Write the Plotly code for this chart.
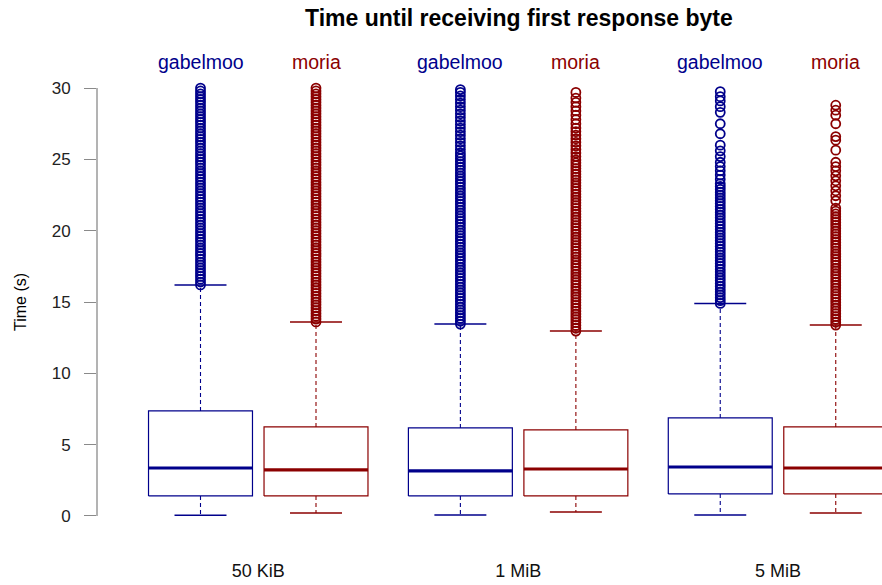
import plotly.graph_objects as go

# ---------------- data ----------------
groups = ["50 KiB", "1 MiB", "5 MiB"]
series = ["gabelmoo", "moria"]

# five-number summaries per group (lower whisker, Q1, median, Q3, upper whisker)
gab_low = [0.05, 0.07, 0.07]
gab_q1 = [1.40, 1.40, 1.54]
gab_med = [3.36, 3.15, 3.43]
gab_q3 = [7.36, 6.17, 6.87]
gab_high = [16.19, 13.45, 14.90]

mor_low = [0.20, 0.28, 0.20]
mor_q1 = [1.40, 1.40, 1.54]
mor_med = [3.22, 3.29, 3.36]
mor_q3 = [6.24, 6.03, 6.24]
mor_high = [13.60, 12.96, 13.38]

# outliers (seconds)
gab_out_50k = [16.2, 16.4, 16.6, 16.8, 17.0, 17.2, 17.4, 17.6, 17.8, 18.0, 18.2, 18.4, 18.6,
               18.8, 19.0, 19.2, 19.4, 19.6, 19.8, 20.0, 20.2, 20.4, 20.6, 20.8, 21.0, 21.2,
               21.4, 21.6, 21.8, 22.0, 22.2, 22.4, 22.6, 22.8, 23.0, 23.2, 23.4, 23.6, 23.8,
               24.0, 24.2, 24.4, 24.6, 24.8, 25.0, 25.2, 25.4, 25.6, 25.8, 26.0, 26.2, 26.4,
               26.6, 26.8, 27.0, 27.2, 27.4, 27.6, 27.8, 28.0, 28.2, 28.4, 28.6, 28.8, 29.0,
               29.2, 29.4, 29.6, 29.8, 30.0]
mor_out_50k = [13.6, 13.8, 14.0, 14.2, 14.4, 14.6, 14.8, 15.0, 15.2, 15.4, 15.6, 15.8, 16.0,
               16.2, 16.4, 16.6, 16.8, 17.0, 17.2, 17.4, 17.6, 17.8, 18.0, 18.2, 18.4, 18.6,
               18.8, 19.0, 19.2, 19.4, 19.6, 19.8, 20.0, 20.2, 20.4, 20.6, 20.8, 21.0, 21.2,
               21.4, 21.6, 21.8, 22.0, 22.2, 22.4, 22.6, 22.8, 23.0, 23.2, 23.4, 23.6, 23.8,
               24.0, 24.2, 24.4, 24.6, 24.8, 25.0, 25.2, 25.4, 25.6, 25.8, 26.0, 26.2, 26.4,
               26.6, 26.8, 27.0, 27.2, 27.4, 27.6, 27.8, 28.0, 28.2, 28.4, 28.6, 28.8, 29.0,
               29.2, 29.4, 29.6, 29.8, 30.0]
gab_out_1m = [13.45, 13.65, 13.85, 14.05, 14.25, 14.45, 14.65, 14.85, 15.05, 15.25, 15.45,
              15.65, 15.85, 16.05, 16.25, 16.45, 16.65, 16.85, 17.05, 17.25, 17.45, 17.65,
              17.85, 18.05, 18.25, 18.45, 18.65, 18.85, 19.05, 19.25, 19.45, 19.65, 19.85,
              20.05, 20.25, 20.45, 20.65, 20.85, 21.05, 21.25, 21.45, 21.65, 21.85, 22.05,
              22.25, 22.45, 22.65, 22.85, 23.05, 23.25, 23.45, 23.65, 23.85, 24.05, 24.25,
              24.45, 24.65, 24.85, 25.05, 25.25, 25.45, 25.7, 25.95, 26.2, 26.45, 26.7,
              26.95, 27.2, 27.45, 27.7, 27.95, 28.2, 28.45, 28.7, 28.95, 29.2, 29.45, 29.7,
              29.9]
mor_out_1m = [12.96, 13.16, 13.36, 13.56, 13.76, 13.96, 14.16, 14.36, 14.56, 14.76, 14.96,
              15.16, 15.36, 15.56, 15.76, 15.96, 16.16, 16.36, 16.56, 16.76, 16.96, 17.16,
              17.36, 17.56, 17.76, 17.96, 18.16, 18.36, 18.56, 18.76, 18.96, 19.16, 19.36,
              19.56, 19.76, 19.96, 20.16, 20.36, 20.56, 20.76, 20.96, 21.16, 21.36, 21.56,
              21.76, 21.96, 22.16, 22.36, 22.56, 22.76, 22.96, 23.16, 23.36, 23.56, 23.76,
              23.96, 24.16, 24.36, 24.56, 24.76, 24.96, 25.2, 25.45, 25.7, 25.95, 26.2,
              26.45, 26.7, 26.95, 27.2, 27.5, 27.8, 28.1, 28.4, 28.7, 29.0, 29.3, 29.7]
gab_out_5m = [14.9, 15.1, 15.3, 15.5, 15.7, 15.9, 16.1, 16.3, 16.5, 16.7, 16.9, 17.1, 17.3,
              17.5, 17.7, 17.9, 18.1, 18.3, 18.5, 18.7, 18.9, 19.1, 19.3, 19.5, 19.7, 19.9,
              20.1, 20.3, 20.5, 20.7, 20.9, 21.1, 21.3, 21.5, 21.7, 21.9, 22.1, 22.3, 22.5,
              22.7, 22.9, 23.1, 23.3, 23.6, 23.9, 24.2, 24.5, 24.8, 25.2, 25.6, 26.0, 26.8,
              27.5, 28.3, 28.7, 29.1, 29.4, 29.75]
mor_out_5m = [13.38, 13.58, 13.78, 13.98, 14.18, 14.38, 14.58, 14.78, 14.98, 15.18, 15.38,
              15.58, 15.78, 15.98, 16.18, 16.38, 16.58, 16.78, 16.98, 17.18, 17.38, 17.58,
              17.78, 17.98, 18.18, 18.38, 18.58, 18.78, 18.98, 19.18, 19.38, 19.58, 19.78,
              19.98, 20.18, 20.38, 20.58, 20.78, 20.98, 21.18, 21.38, 21.58, 22.1, 22.45,
              22.8, 23.15, 23.5, 23.85, 24.2, 24.5, 24.8, 25.65, 26.35, 26.6, 27.5, 28.1,
              28.45, 28.8]

gab_out = [gab_out_50k, gab_out_1m, gab_out_5m]
mor_out = [mor_out_50k, mor_out_1m, mor_out_5m]

y_ticks = [0, 5, 10, 15, 20, 25, 30]

# ---------------- layout / style ----------------
pos = {"gabelmoo": [1.0, 3.25, 5.5], "moria": [2.0, 4.25, 6.5]}
colors = {"gabelmoo": "#00008B", "moria": "#8B0000"}
HW = 0.45   # half box width
CW = 0.225  # half cap width
FONT = "Liberation Sans, Arial, Helvetica, sans-serif"

stats = {
    "gabelmoo": (gab_low, gab_q1, gab_med, gab_q3, gab_high, gab_out),
    "moria": (mor_low, mor_q1, mor_med, mor_q3, mor_high, mor_out),
}

fig = go.Figure()

for s in series:
    lo, q1, med, q3, hi, outs = stats[s]
    c = colors[s]
    rx, ry, mx, my, wx, wy, cx, cy, ox, oy = [], [], [], [], [], [], [], [], [], []
    for i, p in enumerate(pos[s]):
        rx += [p - HW, p + HW, p + HW, p - HW, p - HW, None]
        ry += [q1[i], q1[i], q3[i], q3[i], q1[i], None]
        mx += [p - HW, p + HW, None]
        my += [med[i], med[i], None]
        wx += [p, p, None, p, p, None]
        wy += [q3[i], hi[i], None, q1[i], lo[i], None]
        cx += [p - CW, p + CW, None, p - CW, p + CW, None]
        cy += [hi[i], hi[i], None, lo[i], lo[i], None]
        ox += [p] * len(outs[i])
        oy += outs[i]
    fig.add_trace(go.Scatter(x=wx, y=wy, mode="lines", line=dict(color=c, width=1.1, dash="4px,3px"),
                             showlegend=False, hoverinfo="skip"))
    fig.add_trace(go.Scatter(x=cx, y=cy, mode="lines", line=dict(color=c, width=1.5),
                             showlegend=False, hoverinfo="skip"))
    fig.add_trace(go.Scatter(x=rx, y=ry, mode="lines", line=dict(color=c, width=1.2),
                             showlegend=False, hoverinfo="skip"))
    fig.add_trace(go.Scatter(x=mx, y=my, mode="lines", line=dict(color=c, width=3.2),
                             showlegend=False, hoverinfo="skip"))
    fig.add_trace(go.Scatter(x=ox, y=oy, mode="markers", name=s,
                             marker=dict(symbol="circle-open", size=9, color=c,
                                         line=dict(color=c, width=1.8)),
                             showlegend=False, cliponaxis=False))

# series labels above each box
annotations = []
for s in series:
    for p in pos[s]:
        annotations.append(dict(x=p, xref="x", y=1, yref="paper", yshift=9, yanchor="middle",
                                text=s, showarrow=False,
                                font=dict(family=FONT, size=19.5, color=colors[s])))

annotations.append(dict(x=(519 - 97) / 785, xref="paper", y=1, yref="paper", yshift=53,
                        yanchor="middle", xanchor="center", showarrow=False,
                        text="<b>Time until receiving first response byte</b>",
                        font=dict(family=FONT, size=23, color="#000000")))
annotations.append(dict(x=0, xref="paper", xshift=-77, xanchor="center",
                        y=15, yref="y", yanchor="middle", textangle=-90, showarrow=False,
                        text="Time (s)", font=dict(family=FONT, size=16, color="#000000")))

group_mid = [(a + b) / 2 for a, b in zip(pos["gabelmoo"], pos["moria"])]

fig.update_layout(
    width=882, height=585,
    margin=dict(l=97, r=0, t=71, b=52),
    paper_bgcolor="white", plot_bgcolor="white",
    annotations=annotations,
    shapes=[dict(type="line", xref="paper", x0=0, x1=0, yref="y", y0=0, y1=30,
                 line=dict(color="#8a8a8a", width=1.3))],
    xaxis=dict(range=[0.1039, 6.9004], showgrid=False, zeroline=False, showline=False,
               tickvals=group_mid, ticktext=groups, ticks="",
               tickfont=dict(family=FONT, size=18, color="#111111"),
               ticklabelstandoff=25),
    yaxis=dict(range=[-1.2, 31.2], showgrid=False, zeroline=False, showline=False,
               tickvals=y_ticks, ticktext=[str(v) for v in y_ticks],
               ticks="outside", ticklen=12, tickcolor="#8a8a8a", tickwidth=1.3,
               tickfont=dict(family=FONT, size=17, color="#222222"),
               ticklabelstandoff=10),
)

fig.write_html("out.html", config={"displayModeBar": False},
               post_script="document.body.style.margin='0';")
